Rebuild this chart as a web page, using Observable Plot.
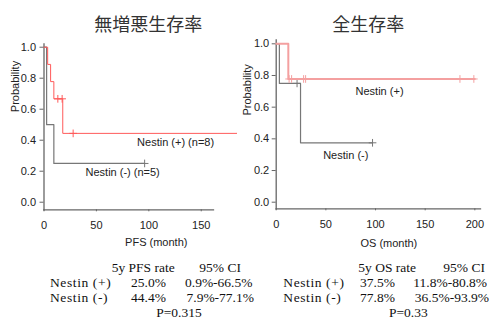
<!DOCTYPE html>
<html>
<head>
<meta charset="utf-8">
<script src="https://cdn.jsdelivr.net/npm/d3@7"></script>
<script src="https://cdn.jsdelivr.net/npm/@observablehq/plot@0.6"></script>
<style>
  html, body { margin: 0; padding: 0; background: #fff; }
  #root { position: relative; width: 499px; height: 320px; overflow: hidden; background: #fff; }
  .panel { position: absolute; top: 0; }
  .title { position: absolute; font-family: "Noto Sans CJK JP", sans-serif; font-size: 18px; color: #333; transform: translate(-50%, -50%); white-space: nowrap; line-height: 1; }
  .cell { position: absolute; font-family: "Liberation Serif", "Times New Roman", serif; font-size: 13.5px; color: #111; line-height: 12px; white-space: nowrap; }
  .grp { letter-spacing: 0.6px; }
</style>
</head>
<body>
<div id="root"></div>
<script>
// ---------------- data ----------------
const pfsTitle = "無増悪生存率";
const osTitle = "全生存率";

// PFS, Nestin (+)
const pfsPosTime = [0, 3.5, 6.3, 9.4, 17.9, 184];
const pfsPosSurv = [1, 0.889, 0.778, 0.667, 0.444, 0.444];
const pfsPosCensorTime = [13.2, 17.3, 27.8];
const pfsPosCensorSurv = [0.667, 0.667, 0.444];
// PFS, Nestin (-)
const pfsNegTime = [0, 2.5, 9.4, 96];
const pfsNegSurv = [1, 0.5, 0.25, 0.25];
const pfsNegCensorTime = [96];
const pfsNegCensorSurv = [0.25];

// OS, Nestin (+)
const osPosTime = [0, 12.2, 200];
const osPosSurv = [1, 0.778, 0.778];
const osPosCensorTime = [13, 15.5, 27.6, 29.6, 185, 199];
const osPosCensorSurv = [0.778, 0.778, 0.778, 0.778, 0.778, 0.778];
// OS, Nestin (-)
const osNegTime = [0, 3.2, 24.5, 97];
const osNegSurv = [1, 0.75, 0.375, 0.375];
const osNegCensorTime = [21, 97];
const osNegCensorSurv = [0.75, 0.375];

// curve labels (anchored in data units)
const pfsLabelText = ["Nestin (+) (n=8)", "Nestin (-) (n=5)"];
const pfsLabelTime = [88.8, 39.6];
const pfsLabelSurv = [0.387, 0.194];
const osLabelText = ["Nestin (+)", "Nestin (-)"];
const osLabelTime = [79.9, 47.3];
const osLabelSurv = [0.70, 0.295];

// axis ticks / labels
const pfsXTicks = [0, 50, 100, 150];
const osXTicks = [0, 50, 100, 150, 200];
const yTicks = [0, 0.2, 0.4, 0.6, 0.8, 1.0];
const pfsXLabel = "PFS (month)";
const osXLabel = "OS (month)";
const yLabel = "Probability";

// table
const groups = ["Nestin (+)", "Nestin (-)"];
const pfsHeader = ["5y PFS rate", "95% CI"];
const pfsRate = ["25.0%", "44.4%"];
const pfsCI = ["0.9%-66.5%", "7.9%-77.1%"];
const pfsP = "P=0.315";
const osHeader = ["5y OS rate", "95% CI"];
const osRate = ["37.5%", "77.8%"];
const osCI = ["11.8%-80.8%", "36.5%-93.9%"];
const osP = "P=0.33";

// ---------------- styles ----------------
const colPos = "#ff5a5a";
const colPosOS = "#f4a0a0";
const colNeg = "#777777";
const axisCol = "#666666";

const zip = (t, s) => t.map((d, i) => ({t: d, s: s[i]}));
const zipL = (txt, t, s) => txt.map((d, i) => ({text: d, t: t[i], s: s[i]}));

function panel(o) {
  return Plot.plot({
    width: o.width, height: 250,
    marginLeft: o.ml, marginRight: o.mr, marginTop: o.mt, marginBottom: o.mb,
    style: {background: "transparent", fontFamily: "Liberation Sans, Arial, sans-serif", fontSize: "11px", color: "#222", overflow: "visible"},
    x: {domain: o.xDomain},
    y: {domain: o.yDomain},
    marks: [
      Plot.frame({anchor: "left", stroke: axisCol, strokeWidth: 1.3}),
      Plot.frame({anchor: "bottom", stroke: axisCol, strokeWidth: 1.3}),
      Plot.axisX({ticks: o.xTicks, tickSize: 2, tickPadding: 9, label: null, stroke: axisCol}),
      Plot.axisY({ticks: yTicks, tickSize: 4, tickPadding: o.yPad, tickFormat: d3.format(".1f"), label: null, stroke: axisCol}),
      Plot.text([o.xLabel], {frameAnchor: "bottom", dx: o.xLabelDx, dy: o.xLabelDy, lineAnchor: "middle", fill: "#222"}),
      Plot.text([yLabel], {frameAnchor: "left", rotate: -90, dx: o.yLabelDx, dy: o.yLabelDy, lineAnchor: "middle", fill: "#222"}),
      Plot.line(o.neg, {x: "t", y: "s", curve: "step-after", stroke: colNeg, strokeWidth: 1.2}),
      Plot.dot(o.negC, {x: "t", y: "s", symbol: "plus", r: 2.6, stroke: colNeg, strokeWidth: 1}),
      Plot.line(o.pos, {x: "t", y: "s", curve: "step-after", stroke: o.posColor, strokeWidth: o.posWidth}),
      Plot.dot(o.posC, {x: "t", y: "s", symbol: "plus", r: 2.6, stroke: o.posColor, strokeWidth: 1}),
      Plot.text(o.labels, {x: "t", y: "s", text: "text", textAnchor: "start", lineAnchor: "middle", fill: "#222"})
    ]
  });
}

const root = document.getElementById("root");

const left = panel({
  width: 245, ml: 43.5, mr: 32, mt: 43.3, mb: 40.7,
  xDomain: [0, 161.7], yDomain: [-0.049, 1.022],
  xTicks: pfsXTicks, yPad: 4, xLabel: pfsXLabel,
  xLabelDx: 27.5, xLabelDy: 32.4, yLabelDx: -28.5, yLabelDy: -14.6,
  pos: zip(pfsPosTime, pfsPosSurv), posC: zip(pfsPosCensorTime, pfsPosCensorSurv),
  neg: zip(pfsNegTime, pfsNegSurv), negC: zip(pfsNegCensorTime, pfsNegCensorSurv),
  posColor: colPos, posWidth: 1,
  labels: zipL(pfsLabelText, pfsLabelTime, pfsLabelSurv)
});
left.classList.add("panel");
left.style.left = "0px";
root.appendChild(left);

const right = panel({
  width: 259, ml: 35.7, mr: 19, mt: 39.3, mb: 41.7,
  xDomain: [0, 205.7], yDomain: [-0.0417, 1.0253],
  xTicks: osXTicks, yPad: 3, xLabel: osXLabel,
  xLabelDx: 10.5, xLabelDy: 34.4, yLabelDx: -28.7, yLabelDy: -8.8,
  pos: zip(osPosTime, osPosSurv), posC: zip(osPosCensorTime, osPosCensorSurv),
  neg: zip(osNegTime, osNegSurv), negC: zip(osNegCensorTime, osNegCensorSurv),
  posColor: colPosOS, posWidth: 2,
  labels: zipL(osLabelText, osLabelTime, osLabelSurv)
});
right.classList.add("panel");
right.style.left = "240px";
root.appendChild(right);

// titles
function addTitle(txt, cx, cy) {
  const d = document.createElement("div");
  d.className = "title";
  d.textContent = txt;
  d.style.left = cx + "px";
  d.style.top = cy + "px";
  root.appendChild(d);
}
addTitle(pfsTitle, 148.3, 22.5);
addTitle(osTitle, 368.3, 22.5);

// table
function addCell(txt, x, cy, center, extra) {
  const d = document.createElement("div");
  d.className = "cell" + (extra ? " " + extra : "");
  d.textContent = txt;
  d.style.left = x + "px";
  d.style.top = (cy - 6) + "px";
  if (center) d.style.transform = "translateX(-50%)";
  root.appendChild(d);
}
const rowY = [268.3, 283.3, 298.3, 313];
function addTable(header, rate, ci, p, hx, cx, pcx) {
  addCell(header[0], hx[0], rowY[0]);
  addCell(header[1], hx[1], rowY[0]);
  groups.forEach((g, i) => {
    addCell(g, cx[0], rowY[i + 1], false, "grp");
    addCell(rate[i], cx[1], rowY[i + 1]);
    addCell(ci[i], cx[2] + (i === 1 ? 1.5 : 0), rowY[i + 1]);
  });
  addCell(p, pcx, rowY[3], true);
}
addTable(pfsHeader, pfsRate, pfsCI, pfsP, [111.7, 199.3], [50, 131, 185], 179);
addTable(osHeader, osRate, osCI, osP, [358.3, 443.3], [283.3, 360, 413.3], 408.3);
</script>
</body>
</html>
